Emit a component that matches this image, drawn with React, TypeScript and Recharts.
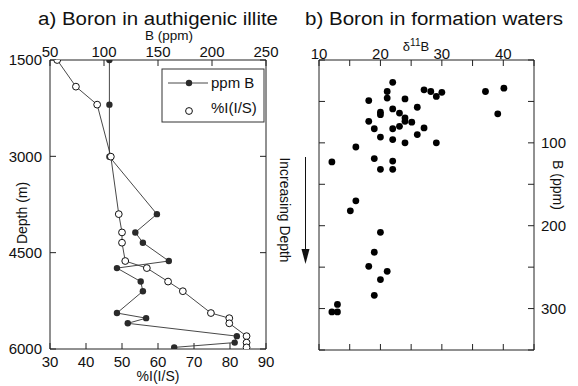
import React from 'react';
import { ScatterChart, Scatter, XAxis, YAxis } from 'recharts';

// a) boron in authigenic illite, by depth
const depthM = [1500, 1915, 2195, 3005, 3900, 4185, 4345, 4630, 4740, 4950, 5100, 5440, 5520, 5600, 5800, 5900, 5975];
const ppmB = [105, null, 105, 105, 149, 129, 136, 160, 112, 134, 136, 112, 139, 122, 223, 221, 165];
const pctIS = [32, 37.2, 43.1, 46.9, 49.1, 50, 50, 50.9, 56.9, 62.8, 66.9, 74.7, 79.8, 79.8, 84.6, 84.6, 84.6];

const depthTicks = [1500, 3000, 4500, 6000];
const ppmTicks = [50, 100, 150, 200, 250];
const pctTicks = [30, 40, 50, 60, 70, 80, 90];

// b) boron in formation waters
const delta11B = [
  22, 21.1, 21.1, 27.1, 28.2, 30, 29.1, 37.1, 40.1, 39.1, 18.1, 24, 26, 22, 20, 20,
  23.1, 24, 24, 25.1, 18.1, 19, 22, 23.1, 27.1, 26, 20, 22, 24, 29.1, 16, 12.1,
  19, 22, 20, 22, 16, 15.1, 20, 19, 18.1, 21.1, 20, 19, 13, 12.1, 13,
];
const waterB = [
  27, 38, 46, 36, 38, 39, 44, 38, 34, 65, 49, 47, 57, 59, 63, 66,
  64, 70, 74, 75, 74, 83, 83, 80, 82, 90, 93, 96, 100, 100, 105, 123,
  119, 122, 132, 132, 170, 182, 208, 232, 249, 255, 265, 284, 295, 304, 304,
];

const deltaTicks = [10, 15, 20, 25, 30, 35, 40, 45];
const deltaLabels = [10, 20, 30, 40];
const waterTicks = [0, 50, 100, 150, 200, 250, 300, 350];
const waterLabels = [100, 200, 300];

const FONT = '"Liberation Sans", Arial, sans-serif';
const tickStyle = { fontSize: 15, fill: '#111', fontFamily: FONT };
const axisLine = { stroke: '#222', strokeWidth: 1 };
const noLabel = () => <g />;

const ppmData = depthM
  .map((d, i) => ({ depth: d, value: ppmB[i] }))
  .filter((p) => p.value !== null);
const pctData = depthM.map((d, i) => ({ depth: d, value: pctIS[i] }));
const waterData = delta11B.map((v, i) => ({ delta: v, boron: waterB[i] }));

const FilledDot = (props: any) => <circle cx={props.cx} cy={props.cy} r={3.2} fill="#2a2a2a" />;
const OpenDot = (props: any) => (
  <circle cx={props.cx} cy={props.cy} r={3.4} fill="#fff" stroke="#111" strokeWidth={1} />
);
const WaterDot = (props: any) => <circle cx={props.cx} cy={props.cy} r={3.4} fill="#000" />;

export default function App() {
  return (
    <div style={{ position: 'fixed', left: 0, top: 0, width: 578, height: 386, background: '#fff', fontFamily: FONT }}>
      <div style={{ position: 'absolute', left: 0, top: 0 }}>
        <ScatterChart width={578} height={386} margin={{ top: 59, left: 49, right: 311, bottom: 36 }}>
          <XAxis xAxisId="ppm" orientation="top" type="number" dataKey="value" domain={[50, 250]} ticks={ppmTicks}
            height={1} allowDataOverflow axisLine={axisLine} tickLine={axisLine} tickSize={-6} tickMargin={9} tick={tickStyle} />
          <XAxis xAxisId="pct" orientation="bottom" type="number" dataKey="value" domain={[30, 90]} ticks={pctTicks}
            height={1} allowDataOverflow axisLine={axisLine} tickLine={axisLine} tickSize={-6} tickMargin={13} tick={tickStyle} />
          <YAxis yAxisId="dl" orientation="left" type="number" dataKey="depth" domain={[1500, 6000]} ticks={depthTicks} reversed
            width={1} allowDataOverflow axisLine={axisLine} tickLine={axisLine} tickSize={-6} tickMargin={14} tick={tickStyle} />
          <YAxis yAxisId="dr" orientation="right" type="number" dataKey="depth" domain={[1500, 6000]} ticks={depthTicks} reversed
            width={1} allowDataOverflow axisLine={axisLine} tickLine={axisLine} tickSize={-6} tick={noLabel} />
          <Scatter data={ppmData} xAxisId="ppm" yAxisId="dl" line={{ stroke: '#333', strokeWidth: 0.9 }}
            shape={FilledDot} isAnimationActive={false} />
          <Scatter data={pctData} xAxisId="pct" yAxisId="dr" line={{ stroke: '#333', strokeWidth: 0.9 }}
            shape={OpenDot} isAnimationActive={false} />
        </ScatterChart>
      </div>
      <div style={{ position: 'absolute', left: 0, top: 0 }}>
        <ScatterChart width={578} height={386} margin={{ top: 59, left: 318, right: 43, bottom: 35 }}>
          <XAxis xAxisId="top" orientation="top" type="number" dataKey="delta" domain={[10, 45]} ticks={deltaTicks}
            height={1} allowDataOverflow axisLine={axisLine} tickLine={axisLine} tickSize={-6} tickMargin={7} tick={tickStyle}
            tickFormatter={(v: number) => (deltaLabels.includes(v) ? String(v) : '')} />
          <XAxis xAxisId="bottom" orientation="bottom" type="number" dataKey="delta" domain={[10, 45]} ticks={deltaTicks}
            height={1} allowDataOverflow axisLine={axisLine} tickLine={axisLine} tickSize={-6} tick={noLabel} />
          <YAxis yAxisId="left" orientation="left" type="number" dataKey="boron" domain={[0, 350]} ticks={waterTicks} reversed
            width={1} allowDataOverflow axisLine={axisLine} tickLine={axisLine} tickSize={-6} tick={noLabel} />
          <YAxis yAxisId="right" orientation="right" type="number" dataKey="boron" domain={[0, 350]} ticks={waterTicks} reversed
            width={1} allowDataOverflow axisLine={axisLine} tickLine={axisLine} tickSize={-6} tickMargin={13} tick={tickStyle}
            tickFormatter={(v: number) => (waterLabels.includes(v) ? String(v) : '')} />
          <Scatter data={waterData} xAxisId="top" yAxisId="right" shape={WaterDot} isAnimationActive={false} />
        </ScatterChart>
      </div>
      <svg width={578} height={386} style={{ position: 'absolute', left: 0, top: 0, pointerEvents: 'none' }}
        fontFamily={FONT} fill="#111">
        <text x={158} y={24.5} fontSize={18} textAnchor="middle" textLength={240} lengthAdjust="spacingAndGlyphs">
          a) Boron in authigenic illite
        </text>
        <text x={434} y={24.5} fontSize={18} textAnchor="middle" textLength={258} lengthAdjust="spacingAndGlyphs">
          b) Boron in formation waters
        </text>
        <text x={169} y={40} fontSize={12.5} textAnchor="middle" textLength={48} lengthAdjust="spacingAndGlyphs">B (ppm)</text>
        <text x={416} y={50.5} fontSize={13} textAnchor="middle">
          δ<tspan fontSize={10} dy={-5}>11</tspan><tspan dy={5}>B</tspan>
        </text>
        <text x={158} y={381} fontSize={14} textAnchor="middle">%I(I/S)</text>
        <text x={0} y={0} fontSize={14} textAnchor="middle" dominantBaseline="central"
          transform="translate(21.5,213) rotate(-90)">Depth (m)</text>
        <text x={0} y={0} fontSize={14} textAnchor="middle" dominantBaseline="central"
          transform="translate(558,185) rotate(90)">B (ppm)</text>
        <text x={0} y={0} fontSize={14} textAnchor="middle" dominantBaseline="central"
          transform="translate(285,210) rotate(90)" textLength={105} lengthAdjust="spacingAndGlyphs">Increasing Depth</text>
        <line x1={305.5} y1={157} x2={305.5} y2={252} stroke="#111" strokeWidth={1} />
        <polygon points="301.5,249 309.5,249 305.5,264" fill="#111" />
        <rect x={162} y={69} width={102} height={53} fill="#fff" stroke="#333" strokeWidth={1} />
        <line x1={168} y1={83} x2={208} y2={83} stroke="#333" strokeWidth={0.9} />
        <circle cx={189} cy={83} r={3.2} fill="#2a2a2a" />
        <text x={211} y={88} fontSize={15}>ppm B</text>
        <circle cx={189} cy={111} r={3.4} fill="#fff" stroke="#111" strokeWidth={1} />
        <text x={211} y={113} fontSize={15}>%I(I/S)</text>
      </svg>
    </div>
  );
}
